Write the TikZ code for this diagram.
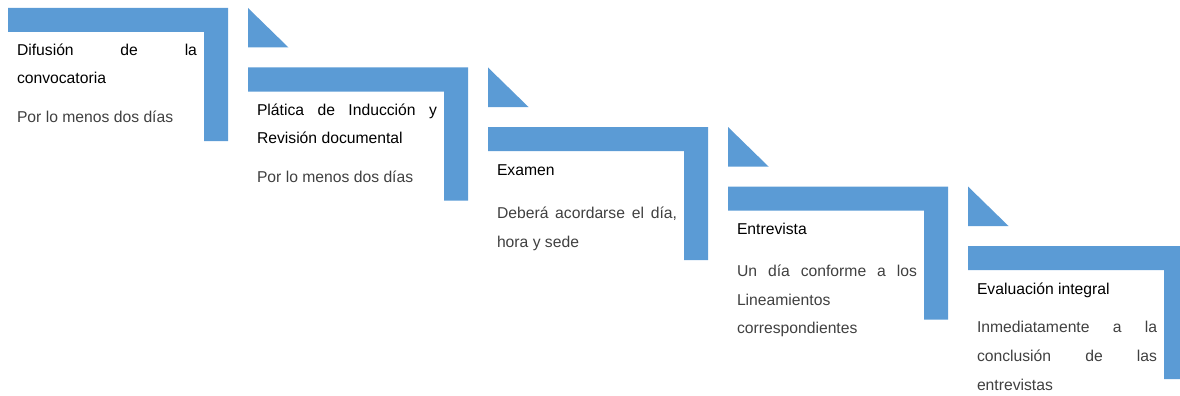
\documentclass[tikz,border=0pt]{standalone}
\usepackage{fontspec}
\setmainfont{Liberation Sans}
\usetikzlibrary{positioning}
\hyphenpenalty=10000
\exhyphenpenalty=10000
\tolerance=9999

\definecolor{stepblue}{HTML}{5B9BD5}
\definecolor{notegray}{HTML}{404040}
\tikzstyle{band}=[fill=stepblue,draw=none]
\tikzstyle{every node}=[inner sep=0pt,outer sep=0pt,anchor=north west,text width=180pt,align=justify]
\tikzstyle{heading}=[font={\fontsize{15.7}{28}\selectfont},execute at begin node={\leavevmode\strut},execute at end node={\strut}]
\tikzstyle{detail}=[text=notegray,font={\fontsize{15.7}{28.7}\selectfont},execute at begin node={\leavevmode\strut},execute at end node={\strut}]

\begin{document}
\begin{tikzpicture}[x=1pt,y=-1pt,node distance=10.5pt]
    \useasboundingbox (0,0) rectangle (1180,396);
    \clip (0,0) rectangle (1180,396);
    % steps
    \foreach \i in {0,...,4}{
        \pgfmathsetmacro{\X}{8+240*\i}
        \pgfmathsetmacro{\Y}{8+59.5*\i}
        \fill[band] (\X,\Y) -- ++(220,0) -- ++(0,133) -- ++(-24,0)
            -- ++(0,-109) -- ++(-196,0) -- cycle;
    }
    \foreach \i in {0,...,3}{
        \pgfmathsetmacro{\X}{248+240*\i}
        \pgfmathsetmacro{\Y}{8+59.5*\i}
        \fill[band] (\X,\Y) -- ++(0,39.5) -- ++(40.5,0) -- cycle;
    }

    \node[heading] (h1) at (17,36.4) {Difusión de la\linebreak convocatoria};
    \node[detail,below=of h1] (d1) {Por lo menos dos días};

    \node[heading] (h2) at (257,95.9) {Plática de Inducción y\linebreak Revisión documental};
    \node[detail,below=of h2] (d2) {Por lo menos dos días};

    \node[heading] (h3) at (497,155.4) {Examen};
    \node[detail,below=15pt of h3] (d3) {Deberá acordarse el día,\linebreak hora y sede};

    \node[heading] (h4) at (737,214.9) {Entrevista};
    \node[detail,below=13.5pt of h4] (d4) {Un día conforme a los\linebreak Lineamientos\hfill\linebreak correspondientes};

    \node[heading] (h5) at (977,274.4) {Evaluación integral};
    \node[detail,below=of h5] (d5) {Inmediatamente a la\linebreak conclusión de las\linebreak entrevistas};
\end{tikzpicture}
\end{document}
